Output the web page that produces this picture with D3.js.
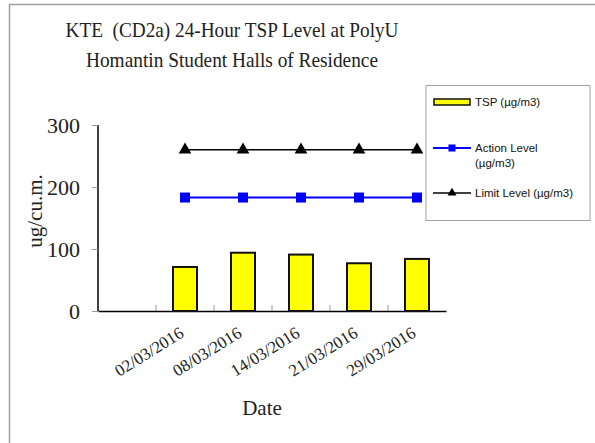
<!DOCTYPE html>
<html><head><meta charset="utf-8">
<script src="https://cdn.jsdelivr.net/npm/d3@7"></script>
<style>body{margin:0;background:#fff}svg{display:block}</style>
</head><body>
<svg id="c" width="595" height="443"></svg>
<script>
const categories = ["", "02/03/2016", "08/03/2016", "14/03/2016", "21/03/2016", "29/03/2016"];
const tspValues = [null, 71, 94, 91, 77, 84];
const actionLevel = [null, 183, 183, 183, 183, 183];
const limitLevel = [null, 260, 260, 260, 260, 260];
const yTicks = [0, 100, 200, 300];
const titleLines = ["KTE  (CD2a) 24-Hour TSP Level at PolyU", "Homantin Student Halls of Residence"];
const legendLabels = [["TSP (µg/m3)"], ["Action Level", "(µg/m3)"], ["Limit Level (µg/m3)"]];

const svg = d3.select("#c");
const serif = "'Liberation Serif','Times New Roman',serif";
const sans = "'Liberation Sans',Arial,sans-serif";

// frame
svg.append("path").attr("d", "M9.5,443 V4.5 H595").attr("fill", "none").attr("stroke", "#a0a0a0").attr("stroke-width", 1.5);

// title
const titleWidths = [333, 292];
svg.selectAll("text.title").data(titleLines).join("text")
  .attr("x", 232).attr("y", (d, i) => 37 + i * 30)
  .attr("text-anchor", "middle").attr("font-family", serif).attr("font-size", 22)
  .attr("textLength", (d, i) => titleWidths[i]).attr("lengthAdjust", "spacingAndGlyphs")
  .style("white-space", "pre")
  .attr("fill", "#222").text(d => d);

const x = d3.scaleBand().domain(categories.map((d, i) => i)).range([98, 446]);
const y = d3.scaleLinear().domain([0, 300]).range([311, 125]);

// y axis
const yAxis = svg.append("g").attr("transform", "translate(98,0)")
  .call(d3.axisLeft(y).tickValues(yTicks).tickSize(6).tickPadding(12));
yAxis.select(".domain").attr("stroke", "#000").attr("stroke-width", 1.5).attr("d", "M0,311V125");
yAxis.selectAll(".tick line").attr("stroke", "#999");
yAxis.selectAll(".tick text").attr("font-family", serif).attr("font-size", 22).attr("fill", "#222");

// x axis
const xAxis = svg.append("g").attr("transform", "translate(0,311)")
  .call(d3.axisBottom(x).tickValues([]).tickSizeOuter(0));
xAxis.select(".domain").attr("stroke", "#000").attr("stroke-width", 1.5);
// band boundary ticks pointing up
svg.append("g").selectAll("line").data(categories.slice(1).map((d, i) => i + 1)).join("line")
  .attr("x1", d => x(d)).attr("x2", d => x(d)).attr("y1", 305).attr("y2", 311)
  .attr("stroke", "#999");
// x labels
svg.append("g").selectAll("text").data(categories.map((d, i) => ({ d, i })).filter(o => o.d)).join("text")
  .attr("transform", o => `translate(${x(o.i) + x.bandwidth() / 2},${336}) rotate(-32)`)
  .attr("text-anchor", "end").attr("font-family", serif).attr("font-size", 17).attr("fill", "#222")
  .text(o => o.d);

// axis titles
svg.append("text").attr("transform", "translate(42,211) rotate(-90)").attr("text-anchor", "middle")
  .attr("font-family", serif).attr("font-size", 21).attr("fill", "#222").text("ug/cu.m.");
svg.append("text").attr("x", 262).attr("y", 415).attr("text-anchor", "middle")
  .attr("font-family", serif).attr("font-size", 21).attr("fill", "#222").text("Date");

// bars
const barW = 24;
svg.append("g").selectAll("rect").data(tspValues.map((v, i) => ({ v, i })).filter(o => o.v != null)).join("rect")
  .attr("x", o => x(o.i) + x.bandwidth() / 2 - barW / 2).attr("width", barW)
  .attr("y", o => y(o.v)).attr("height", o => y(0) - y(o.v))
  .attr("fill", "#ffff00").attr("stroke", "#111").attr("stroke-width", 2);

// lines
const cx = i => x(i) + x.bandwidth() / 2;
function series(vals, color, width, shape, size) {
  const pts = vals.map((v, i) => ({ v, i })).filter(o => o.v != null);
  svg.append("path").datum(pts)
    .attr("d", d3.line().x(o => cx(o.i)).y(o => y(o.v)))
    .attr("fill", "none").attr("stroke", color).attr("stroke-width", width);
  svg.append("g").selectAll("path").data(pts).join("path")
    .attr("transform", o => `translate(${cx(o.i)},${y(o.v)})`)
    .attr("d", d3.symbol().type(shape).size(size)).attr("fill", color);
}
series(actionLevel, "#0000ff", 2, d3.symbolSquare, 100);
series(limitLevel, "#000", 1.5, d3.symbolTriangle, 70);

// legend
const lg = svg.append("g");
lg.append("rect").attr("x", 426).attr("y", 85.5).attr("width", 164).attr("height", 135)
  .attr("fill", "#fff").attr("stroke", "#a0a0a0").attr("stroke-width", 1);
const rowY = [102, 148, 193];
lg.append("rect").attr("x", 434).attr("y", rowY[0] - 3).attr("width", 36).attr("height", 6)
  .attr("fill", "#ffff00").attr("stroke", "#111").attr("stroke-width", 1.5);
lg.append("line").attr("x1", 433).attr("x2", 471).attr("y1", rowY[1]).attr("y2", rowY[1]).attr("stroke", "#0000ff").attr("stroke-width", 2);
lg.append("path").attr("transform", `translate(452,${rowY[1]})`).attr("d", d3.symbol().type(d3.symbolSquare).size(50)).attr("fill", "#0000ff");
lg.append("line").attr("x1", 433).attr("x2", 471).attr("y1", rowY[2]).attr("y2", rowY[2]).attr("stroke", "#000").attr("stroke-width", 1.5);
lg.append("path").attr("transform", `translate(452,${rowY[2]})`).attr("d", d3.symbol().type(d3.symbolTriangle).size(35)).attr("fill", "#000");
legendLabels.forEach((lines, k) => {
  lines.forEach((t, j) => {
    lg.append("text").attr("x", 475).attr("y", rowY[k] + 4 + j * 15)
      .attr("font-family", sans).attr("font-size", 11.5).attr("fill", "#111").text(t);
  });
});
</script>
</body></html>
